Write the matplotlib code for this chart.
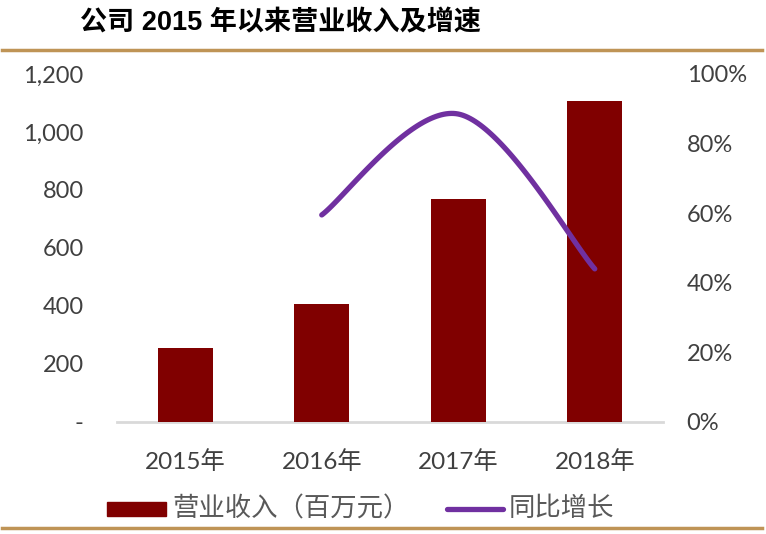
import matplotlib
matplotlib.use("Agg")
import matplotlib.pyplot as plt
import numpy as np
from matplotlib.lines import Line2D
from matplotlib.patches import Rectangle

categories = ["2015年", "2016年", "2017年", "2018年"]
revenue = [255, 408, 768, 1106]
growth = [None, 59.5, 88.5, 44.0]
left_ticks = [0, 200, 400, 600, 800, 1000, 1200]
left_labels = ["-", "200", "400", "600", "800", "1,000", "1,200"]
right_ticks = [0, 20, 40, 60, 80, 100]
right_labels = ["0%", "20%", "40%", "60%", "80%", "100%"]
title = "公司 2015 年以来营业收入及增速"
legend_bar = "营业收入（百万元）"
legend_line = "同比增长"

BAR = "#800000"
LINE = "#7030A0"
GOLD = "#BF9456"
TXT = "#404040"
FONT = ["Lato", "Noto Sans CJK SC", "DejaVu Sans"]

plt.rcParams["font.family"] = FONT

fig = plt.figure(figsize=(7.66, 5.34), dpi=100)
ax = fig.add_axes([117/766, 1-422/534, (663-117)/766, (422-74)/534])
ax2 = ax.twinx()

x = np.arange(len(categories))
ax.bar(x, revenue, width=0.4, color=BAR, zorder=3)
ax.set_xlim(-0.5, 3.5)
ax.set_ylim(0, 1200)
ax.set_yticks(left_ticks)
ax.set_yticklabels(left_labels)
ax.set_xticks(x)
ax.set_xticklabels(categories)

# smoothed growth line (Catmull-Rom style bezier, like Excel smoothing)
pts = [(xi, g) for xi, g in zip(x, growth) if g is not None]
P = np.array(pts, dtype=float)
curve = []
n = len(P)
t = np.linspace(0, 1, 60)
for i in range(n - 1):
    p0 = P[i - 1] if i > 0 else P[i]
    p1 = P[i]
    p2 = P[i + 1]
    p3 = P[i + 2] if i + 2 < n else P[i + 1]
    c1 = p1 + (p2 - p0) / 6
    c2 = p2 - (p3 - p1) / 6
    seg = ((1 - t)[:, None] ** 3 * p1 + 3 * ((1 - t) ** 2 * t)[:, None] * c1
           + 3 * ((1 - t) * t ** 2)[:, None] * c2 + (t ** 3)[:, None] * p2)
    curve.append(seg)
curve = np.vstack(curve)
ax2.plot(curve[:, 0], curve[:, 1], color=LINE, lw=3.8, solid_capstyle="round", zorder=4)
ax2.set_ylim(0, 100)
ax2.set_yticks(right_ticks)
ax2.set_yticklabels(right_labels)
ax2.set_xlim(-0.5, 3.5)

for a in (ax, ax2):
    for s in a.spines.values():
        s.set_visible(False)
    a.tick_params(length=0, labelsize=17, colors=TXT)
ax.tick_params(axis="y", pad=24)
ax2.tick_params(axis="y", pad=17)
ax.tick_params(axis="x", pad=20, labelsize=17.5)
ax.axhline(0, color="#D9D9D9", lw=2, zorder=2, clip_on=False)

# title and gold rules
fig.text(80/766, 1-23/534, title, fontsize=19.5, fontweight="bold", color="black",
         family=["Liberation Sans", "Noto Sans CJK SC"], va="center", ha="left")
fig.add_artist(Line2D([2/766, 762/766], [1-50/534, 1-50/534], color=GOLD, lw=2.5))
fig.add_artist(Line2D([2/766, 762/766], [1-528/534, 1-528/534], color=GOLD, lw=2.5))

# legend
ly = 1-509/534
fig.add_artist(Rectangle((107/766, 1-516/534), 59/766, 14/534, color=BAR, transform=fig.transFigure))
fig.text(172/766, ly, legend_bar, fontsize=19, color="#595959", va="center", ha="left")
fig.add_artist(Line2D([447/766, 503/766], [ly, ly], color=LINE, lw=3.8, solid_capstyle="round"))
fig.text(509/766, ly, legend_line, fontsize=19, color="#595959", va="center", ha="left")

fig.savefig("out.png", dpi=100)
